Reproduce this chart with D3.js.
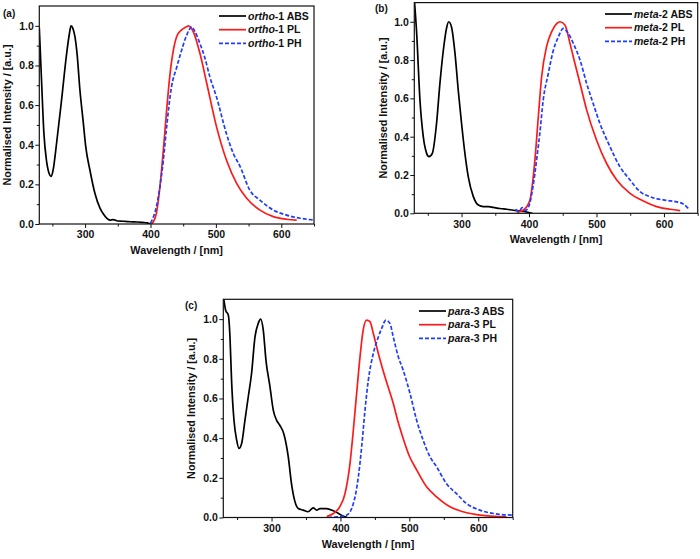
<!DOCTYPE html>
<html><head><meta charset="utf-8">
<script src="https://cdn.jsdelivr.net/npm/d3@7"></script>
<style>
body{margin:0;background:#fff}
text{font-family:"Liberation Sans",Arial,sans-serif;font-weight:bold;fill:#111}
</style>
</head><body>
<svg id="chart" width="700" height="559"></svg>
<script>
// ---------- DATA ----------
const xMajorTicks = [300, 400, 500, 600];
const xMinorTicks = [250, 350, 450, 550, 650];
const yMajorTicks = [0, 0.2, 0.4, 0.6, 0.8, 1.0];
const yMinorTicks = [0.1, 0.3, 0.5, 0.7, 0.9];

// panel (a) ortho-1
const absA_nm = [230,233.6,237,241,245,247.9,251,256.5,264,271.8,276,278.5,281,284.5,288,292,297,301,307.5,315,322.8,328,333,338,343,350,358,365,372,380,388,395,400];
const absA_val = [0.99,0.71,0.46,0.32,0.255,0.24,0.27,0.41,0.625,0.86,0.96,1.0,0.99,0.945,0.85,0.68,0.52,0.39,0.27,0.155,0.08,0.05,0.03,0.02,0.022,0.015,0.014,0.012,0.011,0.01,0.008,0.006,0.0];
const plA_nm = [401,405,409,414.5,419.6,424.7,430,435,440,447.6,455,458,465.5,475.7,486,501,516.4,531.7,547,567.4,587.8,608,623.5];
const plA_val = [0,0.015,0.054,0.19,0.37,0.575,0.76,0.877,0.945,0.98,0.995,1.0,0.97,0.86,0.71,0.49,0.32,0.205,0.13,0.07,0.037,0.024,0.02];
const phA_nm = [400,405,409,414.5,419.6,424.7,432,440,447.6,455,463,468,475.7,483,491,501,516,526.6,537,552,567.4,588,608,628.6,650];
const phA_val = [0.005,0.04,0.087,0.19,0.32,0.49,0.69,0.79,0.877,0.95,0.995,0.97,0.91,0.84,0.74,0.64,0.457,0.356,0.29,0.17,0.12,0.07,0.045,0.029,0.02];

// panel (b) meta-2
const absB_nm = [230,233.5,238.4,243.3,248.3,251.7,256.7,263,268,273,278,281,285.3,290.3,295.2,300,305,310,317.5,324.9,332.3,340,347,357,367,377,387,395,401,405];
const absB_val = [1.12,0.94,0.59,0.40,0.313,0.296,0.313,0.47,0.68,0.85,0.97,1.0,0.97,0.835,0.64,0.47,0.313,0.19,0.087,0.043,0.035,0.035,0.031,0.025,0.021,0.016,0.012,0.008,0.003,0.0];
const plB_nm = [382,391.6,401.4,405,408.8,413.8,418.7,426,433.6,441,446,453.3,460.7,468,475.6,485.4,500,515,530,549.7,569.4,589,609,624];
const plB_val = [0.005,0.017,0.07,0.15,0.28,0.504,0.713,0.87,0.948,0.99,1.0,0.983,0.887,0.783,0.678,0.54,0.383,0.26,0.174,0.104,0.064,0.035,0.021,0.014];
const phB_nm = [380,385,390,395,401,405,408.8,412,416,421,428.6,436,443.4,450.8,458,465.7,475.6,485.4,495,505,520,534.8,549.7,564.5,579,590,599,610,618.8,628,636];
const phB_val = [0.02,0.01,0.03,0.015,0.05,0.12,0.21,0.3,0.417,0.59,0.73,0.85,0.92,0.965,0.94,0.887,0.8,0.678,0.574,0.47,0.348,0.243,0.174,0.113,0.087,0.075,0.07,0.065,0.06,0.05,0.026];

// panel (c) para-3
const absC_nm = [230,233.4,237.3,239.7,242,245.5,249.4,252.7,256.6,261.4,266.3,271,276,280.8,284.2,288,292,297.7,302.6,307.4,312,318,324.3,329,334,338.9,346,353,360.6,365.5,370.3,380,389.6,399,406.6,410];
const absC_val = [1.12,1.045,1.02,0.91,0.69,0.49,0.39,0.348,0.373,0.49,0.61,0.726,0.91,0.98,1.0,0.945,0.79,0.66,0.54,0.49,0.465,0.42,0.306,0.17,0.08,0.045,0.037,0.029,0.049,0.037,0.045,0.045,0.034,0.017,0.003,0];
const plC_nm = [380,389.6,399,406.6,413.8,418.7,423.5,428.4,433,438,442.9,447.7,455,462,469,476.7,483,490,500,510.6,525,539.6,559,578,602.5,641];
const plC_val = [0.005,0.02,0.054,0.12,0.27,0.44,0.625,0.81,0.945,0.995,0.987,0.928,0.827,0.74,0.66,0.575,0.49,0.41,0.31,0.24,0.155,0.104,0.054,0.029,0.012,0.003];
const phC_nm = [382,395,409,418.7,426,430.8,435.6,440.4,447.7,455,459.8,466,471.9,476.7,484,491,501,510.6,520,530,539.6,554,568.6,583,602.5,621.9,650];
const phC_val = [0,0.003,0.012,0.07,0.205,0.356,0.54,0.69,0.827,0.91,0.953,0.995,0.978,0.91,0.81,0.743,0.625,0.49,0.39,0.306,0.255,0.17,0.12,0.07,0.037,0.02,0.012];

const panelLetters = ["(a)", "(b)", "(c)"];
const compoundNames = ["ortho", "meta", "para"];
const compoundNums = ["-1", "-2", "-3"];
const seriesSuffix = [" ABS", " PL", " PH"];
const xTitle = "Wavelength / [nm]";
const yTitle = "Normalised Intensity / [a.u.]";

// ---------- LAYOUT ----------
const layout = [
  {L:39.3, R:314, T:6, B:224, lx:3, ly:17, yt:7, leg:{x:219, y:16}},
  {L:414.3, R:697.7, T:2.6, B:213.3, lx:375, ly:12, yt:383, leg:{x:605, y:14}},
  {L:223.3, R:512.7, T:299.3, B:517.5, lx:185, ly:309, yt:191, leg:{x:419, y:311}}
];
const data = [
  [[absA_nm, absA_val],[plA_nm, plA_val],[phA_nm, phA_val]],
  [[absB_nm, absB_val],[plB_nm, plB_val],[phB_nm, phB_val]],
  [[absC_nm, absC_val],[plC_nm, plC_val],[phC_nm, phC_val]]
];
const colors = ["#000000", "#ff1a1a", "#1f3cff"];
const dashes = [null, null, "4,2"];

const svg = d3.select("#chart");
const FS = 10.5;

layout.forEach((p, i) => {
  const x = d3.scaleLinear().domain([230, 650]).range([p.L, p.R]);
  const y = d3.scaleLinear().domain([0, 1.1]).range([p.B, p.T]);
  const g = svg.append("g");

  const clipId = "clip" + i;
  svg.append("clipPath").attr("id", clipId).append("rect")
    .attr("x", p.L).attr("y", p.T).attr("width", p.R - p.L).attr("height", p.B - p.T);

  const xa = g.append("g").attr("transform", `translate(0,${p.B})`)
    .call(d3.axisBottom(x).tickValues(xMajorTicks).tickSize(4).tickPadding(3).tickFormat(d3.format("d")));
  const xm = g.append("g").attr("transform", `translate(0,${p.B})`)
    .call(d3.axisBottom(x).tickValues(xMinorTicks).tickSize(2.5).tickFormat(""));
  const ya = g.append("g").attr("transform", `translate(${p.L},0)`)
    .call(d3.axisLeft(y).tickValues(yMajorTicks).tickSize(4).tickPadding(1.5).tickFormat(d3.format(".1f")));
  const ym = g.append("g").attr("transform", `translate(${p.L},0)`)
    .call(d3.axisLeft(y).tickValues(yMinorTicks).tickSize(2.5).tickFormat(""));
  [xa, xm, ya, ym].forEach(a => {
    a.select(".domain").remove();
    a.selectAll("line").attr("stroke", "#111").attr("stroke-width", 1);
    a.selectAll("text").style("font-size", FS + "px").attr("fill", "#111");
  });

  const line = d3.line().x(d => x(d[0])).y(d => y(d[1])).curve(d3.curveMonotoneX);
  data[i].forEach((s, k) => {
    const pts = s[0].map((v, j) => [v, s[1][j]]);
    g.append("path").attr("d", line(pts)).attr("fill", "none")
      .attr("stroke", colors[k]).attr("stroke-width", 1.7)
      .attr("stroke-dasharray", dashes[k]).attr("clip-path", `url(#${clipId})`);
  });

  g.append("rect").attr("x", p.L).attr("y", p.T).attr("width", p.R - p.L).attr("height", p.B - p.T)
    .attr("fill", "none").attr("stroke", "#111").attr("stroke-width", 1.2);

  g.append("text").attr("x", (p.L + p.R) / 2).attr("y", p.B + 30).attr("text-anchor", "middle")
    .style("font-size", "10.8px").text(xTitle);
  g.append("text").attr("transform", `translate(${p.yt + 4},${(p.T + p.B) / 2}) rotate(-90)`)
    .attr("text-anchor", "middle").style("font-size", "10.8px").text(yTitle);
  g.append("text").attr("x", p.lx).attr("y", p.ly).style("font-size", "10px").text(panelLetters[i]);

  seriesSuffix.forEach((suf, k) => {
    const ly = p.leg.y + k * 13.7;
    g.append("line").attr("x1", p.leg.x).attr("x2", p.leg.x + 27).attr("y1", ly).attr("y2", ly)
      .attr("stroke", colors[k]).attr("stroke-width", 1.7).attr("stroke-dasharray", dashes[k]);
    const t = g.append("text").attr("x", p.leg.x + 29).attr("y", ly + 3.7).style("font-size", FS + "px");
    t.append("tspan").style("font-style", "italic").text(compoundNames[i]);
    t.append("tspan").text(compoundNums[i] + suf);
  });
});
</script>
</body></html>
